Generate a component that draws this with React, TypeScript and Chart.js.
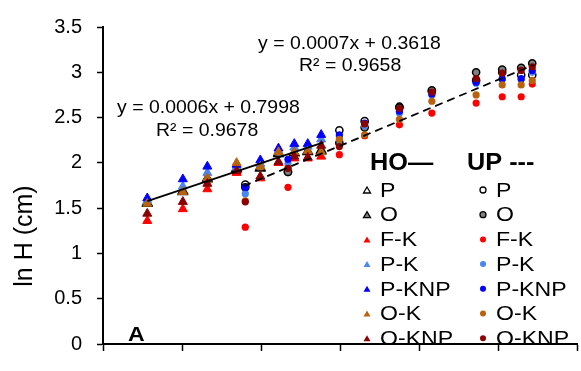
import React, { useEffect, useRef } from 'react';
import { Chart, registerables } from 'chart.js';

Chart.register(...registerables);

const FAMILY = '"Liberation Sans", Arial, sans-serif';
const HSTRETCH = 1.1;

const seriesNames = ['P', 'O', 'F-K', 'P-K', 'P-KNP', 'O-K', 'O-KNP'];
const seriesFill = ['#ffffff', '#808080', '#ff0000', '#4a86f0', '#0000ff', '#b8630f', '#8b0000'];
const seriesBorder = ['#000000', '#000000', '#ff0000', '#4a86f0', '#0000ff', '#b8630f', '#8b0000'];

// HO (triangles, solid trend line)
const hoX = [1280, 1505, 1660, 1845, 1995, 2110, 2210, 2295, 2380];
const hoP = [1.56, 1.69, 1.83, 1.94, 1.95, 2.11, 2.11, 2.13, 2.14];
const hoO = [1.55, 1.68, 1.82, 1.93, 1.94, 2.10, 2.11, 2.12, 2.13];
const hoFK = [1.36, 1.49, 1.71, 1.89, 1.83, 2.00, 2.05, 2.05, 2.07];
const hoPK = [1.58, 1.74, 1.89, 1.95, 1.99, 2.13, 2.17, 2.18, 2.26];
const hoPKNP = [1.61, 1.82, 1.96, 1.98, 2.03, 2.16, 2.21, 2.21, 2.31];
const hoOK = [1.55, 1.68, 1.83, 2.00, 1.96, 2.12, 2.12, 2.13, 2.12];
const hoOKNP = [1.44, 1.57, 1.77, 1.91, 1.85, 2.01, 2.07, 2.06, 2.19];

// UP (circles, dashed trend line)
const upX = [1900, 2170, 2495, 2655, 2875, 3080, 3360, 3525, 3645, 3715];
const upP = [1.76, 1.90, 2.36, 2.46, 2.62, 2.79, 2.91, 3.00, 2.97, 2.97];
const upO = [1.73, 1.90, 2.22, 2.39, 2.61, 2.80, 3.00, 3.03, 3.05, 3.10];
const upFK = [1.29, 1.73, 2.09, 2.30, 2.42, 2.55, 2.66, 2.73, 2.73, 2.87];
const upPK = [1.66, 1.99, 2.29, 2.41, 2.55, 2.75, 2.88, 2.92, 2.92, 3.00];
const upPKNP = [1.73, 2.04, 2.31, 2.44, 2.57, 2.76, 2.89, 2.93, 2.93, 3.02];
const upOK = [1.58, 1.94, 2.26, 2.31, 2.48, 2.68, 2.75, 2.86, 2.86, 2.91];
const upOKNP = [1.57, 1.94, 2.18, 2.43, 2.60, 2.78, 2.93, 2.99, 3.02, 3.06];

// trend lines (end points)
const hoLineX = [1280, 2395];
const hoLineY = [1.577, 2.227];
const upLineX = [1887, 3725];
const upLineY = [1.742, 3.082];

const hoEquation = 'y = 0.0006x + 0.7998';
const hoR2 = 'R² = 0.9678';
const upEquation = 'y = 0.0007x + 0.3618';
const upR2 = 'R² = 0.9658';

const yTitle = 'ln H (cm)';
const panelLabel = 'A';
const hoHeader = 'HO—';
const upHeader = 'UP ---';

const hoSeries = [hoP, hoO, hoFK, hoPK, hoPKNP, hoOK, hoOKNP];
const upSeries = [upP, upO, upFK, upPK, upPKNP, upOK, upOKNP];

function pts(xs: number[], ys: number[]) {
  return xs.map((x, i) => ({ x, y: ys[i] }));
}

function drawTri(ctx: CanvasRenderingContext2D, x: number, y: number, w: number, h: number) {
  ctx.beginPath();
  ctx.moveTo(x, y - h / 2);
  ctx.lineTo(x + w / 2, y + h / 2);
  ctx.lineTo(x - w / 2, y + h / 2);
  ctx.closePath();
}

function text(ctx: CanvasRenderingContext2D, s: string, x: number, y: number, font: string) {
  ctx.save();
  ctx.font = font;
  ctx.translate(x, y);
  ctx.scale(HSTRETCH, 1);
  ctx.fillText(s, 0, 0);
  ctx.restore();
}

const annotPlugin = {
  id: 'annot',
  afterDraw(chart: any) {
    const ctx: CanvasRenderingContext2D = chart.ctx;
    ctx.save();
    ctx.fillStyle = '#000';
    ctx.textBaseline = 'middle';
    ctx.textAlign = 'left';
    const eqFont = `17.7px ${FAMILY}`;
    text(ctx, hoEquation, 117, 108, eqFont);
    text(ctx, hoR2, 156, 131, eqFont);
    text(ctx, upEquation, 258, 44, eqFont);
    text(ctx, upR2, 299, 66, eqFont);

    text(ctx, panelLabel, 128, 335, `bold 21px ${FAMILY}`);

    // y title
    ctx.save();
    ctx.translate(25, 236);
    ctx.rotate(-Math.PI / 2);
    ctx.textAlign = 'center';
    ctx.font = `25px ${FAMILY}`;
    ctx.fillText(yTitle, 0, 0);
    ctx.restore();

    // legend
    text(ctx, hoHeader, 370, 164, `bold 23px ${FAMILY}`);
    text(ctx, upHeader, 467, 164, `bold 23px ${FAMILY}`);
    for (let i = 0; i < seriesNames.length; i++) {
      const y = 190 + i * 24.7;
      ctx.fillStyle = seriesFill[i];
      ctx.strokeStyle = seriesBorder[i];
      ctx.lineWidth = 1.3;
      drawTri(ctx, 367, y, 7, 6);
      ctx.fill();
      if (i < 2) ctx.stroke();
      ctx.beginPath();
      ctx.arc(483, y, 3, 0, Math.PI * 2);
      ctx.fill();
      if (i < 2) ctx.stroke();
      ctx.fillStyle = '#000';
      text(ctx, seriesNames[i], 380, y + 1, `21px ${FAMILY}`);
      text(ctx, seriesNames[i], 496, y + 1, `21px ${FAMILY}`);
    }
    ctx.restore();
  },
};

export default function App() {
  const ref = useRef<HTMLCanvasElement | null>(null);
  useEffect(() => {
    if (!ref.current) return;
    const N = seriesNames.length * 2;
    const datasets: any[] = [];
    seriesNames.forEach((name, i) => {
      datasets.push({
        label: 'HO ' + name,
        data: pts(hoX, hoSeries[i]),
        pointStyle: 'triangle',
        pointRadius: 5.2,
        backgroundColor: seriesFill[i],
        borderColor: seriesBorder[i],
        borderWidth: i < 2 ? 1.5 : 1,
        showLine: false,
      });
    });
    seriesNames.forEach((name, i) => {
      datasets.push({
        label: 'UP ' + name,
        data: pts(upX, upSeries[i]),
        pointStyle: 'circle',
        pointRadius: 3.6,
        backgroundColor: seriesFill[i],
        borderColor: seriesBorder[i],
        borderWidth: i < 2 ? 1.5 : 0,
        showLine: false,
      });
    });
    datasets.forEach((d, i) => (d.order = N - i));
    datasets.push({
      label: 'HO trend',
      data: pts(hoLineX, hoLineY),
      showLine: true,
      borderColor: '#000',
      borderWidth: 1.8,
      pointRadius: 0,
      order: -1,
    });
    datasets.push({
      label: 'UP trend',
      data: pts(upLineX, upLineY),
      showLine: true,
      borderColor: '#000',
      borderWidth: 1.8,
      borderDash: [8, 5],
      pointRadius: 0,
      order: -1,
    });

    const chart = new Chart(ref.current, {
      type: 'scatter',
      data: { datasets },
      options: {
        animation: false,
        responsive: false,
        devicePixelRatio: 1,
        layout: { padding: { top: 16, left: 0, right: 0, bottom: 0 } },
        plugins: { legend: { display: false }, tooltip: { enabled: false } },
        scales: {
          x: {
            type: 'linear',
            min: 1000,
            max: 4000,
            ticks: { display: false, stepSize: 500 },
            grid: { drawOnChartArea: false, drawTicks: true, tickLength: 7, tickColor: '#000', tickWidth: 1.5 },
            border: { color: '#000', width: 2 },
            afterFit: (s: any) => { s.height = 15; },
          },
          y: {
            min: 0,
            max: 3.5,
            ticks: {
              stepSize: 0.5,
              color: '#000',
              font: { family: FAMILY, size: 20 },
              padding: 15,
              callback: (v: any) => String(Number(v)),
            },
            grid: { drawOnChartArea: false, drawTicks: true, tickLength: 6, tickColor: '#000', tickWidth: 1.5 },
            border: { color: '#000', width: 2 },
            afterFit: (s: any) => { s.width = 103; },
          },
        },
      },
      plugins: [annotPlugin],
    });
    return () => chart.destroy();
  }, []);

  return (
    <div style={{ position: 'fixed', left: 0, top: 0, width: 581, height: 371, overflow: 'hidden', background: '#fff' }}>
      <canvas ref={ref} width={584} height={371} style={{ display: 'block', width: 584, height: 371 }} />
    </div>
  );
}
